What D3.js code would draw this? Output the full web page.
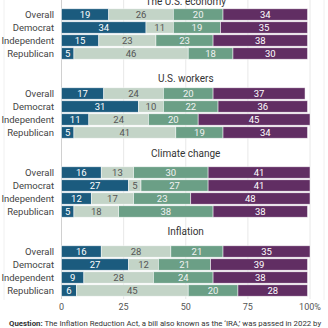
<!DOCTYPE html>
<html lang="en">
<head>
<meta charset="UTF-8">
<title>IRA impact</title>
<script src="https://cdnjs.cloudflare.com/ajax/libs/d3/7.8.5/d3.min.js"></script>
<style>
  html, body { margin: 0; padding: 0; background: #fff; }
  svg { display: block; font-family: Roboto, "Noto Sans", sans-serif; }
</style>
</head>
<body>
<div id="chart"></div>
<script>
// data
const topics = ["The U.S. economy", "U.S. workers", "Climate change", "Inflation"];
const groups = ["Overall", "Democrat", "Independent", "Republican"];
const economy   = [[19, 26, 20, 34], [34, 11, 19, 35], [15, 23, 23, 38], [5, 46, 18, 30]];
const workers   = [[17, 24, 20, 37], [31, 10, 22, 36], [11, 24, 20, 45], [5, 41, 19, 34]];
const climate   = [[16, 13, 30, 41], [27, 5, 27, 41], [12, 17, 23, 48], [5, 18, 38, 38]];
const inflation = [[16, 28, 21, 35], [27, 12, 21, 39], [9, 28, 24, 38], [6, 45, 20, 28]];
const ticks = [0, 25, 50, 75, 100];
const colors = ["#1b5b7e", "#c3d4c7", "#6b9f86", "#612e63"];
const textColors = ["#ffffff", "#555555", "#f2f2f2", "#ffffff"];

const allTopics = [economy, workers, climate, inflation];

const W = 328, H = 328;
const svg = d3.select("#chart").append("svg").attr("width", W).attr("height", H);

const x = d3.scaleLinear().domain([0, 100]).range([61.5, 310]);
const facetTop = d3.scaleLinear().domain([0, 1]).range([8, 87]);   // top of first bar per topic
const row = d3.scaleBand().domain(groups).range([0, 52]).paddingInner(0.12).paddingOuter(0.06);
const titleOffset = [13, 15, 19, 20];

// panel edges and gridlines
svg.append("g").selectAll("line").data([4, 324]).join("line")
  .attr("x1", d => d).attr("x2", d => d).attr("y1", 0).attr("y2", 300)
  .attr("stroke", "#f0f0f0");
svg.append("g").selectAll("line").data(ticks.slice(1)).join("line")
  .attr("x1", d => x(d)).attr("x2", d => x(d)).attr("y1", 0).attr("y2", 299)
  .attr("stroke", "#e8e8e8");
svg.append("line")
  .attr("x1", x(0)).attr("x2", x(0)).attr("y1", 0).attr("y2", 299)
  .attr("stroke", "#d0d0d0");

allTopics.forEach((data, ti) => {
  const top = facetTop(ti);
  const g = svg.append("g").attr("transform", `translate(0,${top})`);

  g.append("text")
    .attr("x", x(50)).attr("y", row("Overall") + row.bandwidth() / 2 - titleOffset[ti])
    .attr("dy", "0.35em").attr("text-anchor", "middle")
    .attr("font-size", 10).attr("fill", "#333").text(topics[ti]);

  data.forEach((vals, gi) => {
    const y0 = row(groups[gi]);
    const segs = [];
    let acc = 0;
    vals.forEach((v, k) => { segs.push({ k, v, a: acc, b: acc + v }); acc += v; });

    g.append("text")
      .attr("x", 54).attr("y", y0 + row.bandwidth() / 2).attr("dy", "0.35em")
      .attr("text-anchor", "end").attr("font-size", 9.5).attr("fill", "#444")
      .text(groups[gi]);

    const bars = g.append("g");
    bars.selectAll("rect").data(segs).join("rect")
      .attr("x", d => x(d.a)).attr("width", d => x(d.b) - x(d.a))
      .attr("y", y0).attr("height", row.bandwidth())
      .attr("fill", d => colors[d.k])
      .attr("stroke", "#fff").attr("stroke-opacity", 0.7).attr("stroke-width", 0.7);
    bars.selectAll("text").data(segs).join("text")
      .attr("x", d => (x(d.a) + x(d.b)) / 2).attr("y", y0 + row.bandwidth() / 2)
      .attr("dy", "0.36em").attr("text-anchor", "middle")
      .attr("font-size", 9.5).attr("fill", d => textColors[d.k])
      .text(d => d.v);
  });
});

// x axis labels
svg.append("g").selectAll("text").data(ticks).join("text")
  .attr("x", d => x(d)).attr("y", 307).attr("dy", "0.35em")
  .attr("text-anchor", "middle").attr("font-size", 9).attr("fill", "#555")
  .text(d => d === 100 ? "100%" : d);

// question note
const q = svg.append("text").attr("x", 9).attr("y", 325.5).attr("font-size", 7.8).attr("fill", "#333");
q.append("tspan").attr("font-weight", "bold").text("Question:");
q.append("tspan").text(" The Inflation Reduction Act, a bill also known as the \u2018IRA,\u2019 was passed in 2022 by");
</script>
</body>
</html>
